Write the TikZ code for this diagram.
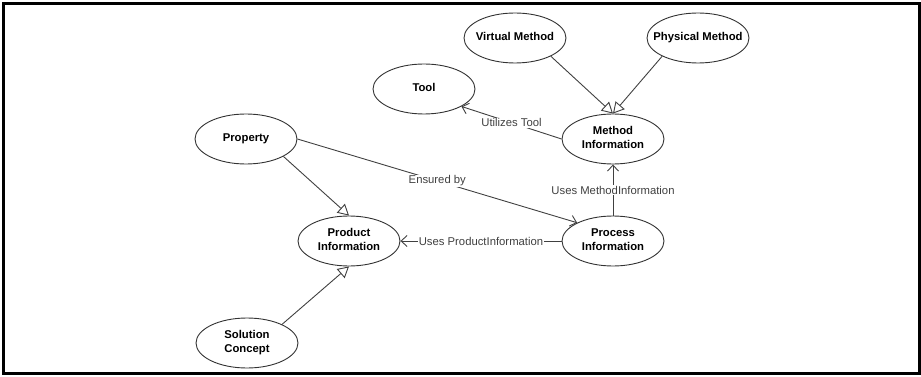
\documentclass[tikz,border=0pt]{standalone}
\usepackage{fontspec}
\setmainfont{Liberation Sans}
\usetikzlibrary{arrows.meta,shapes.geometric}
% centred multi-line text of zero width, so every ellipse keeps the same size
\newcommand{\ctext}[1]{\makebox[0pt]{\begin{tabular}{@{}c@{}}#1\end{tabular}}}
\begin{document}
\begin{tikzpicture}[x=1pt,y=-1pt,
  concept/.style={ellipse, draw=black!80, line width=0.9pt, fill=white,
    minimum width=102pt, minimum height=50pt, inner sep=0pt,
    font=\fontsize{11.3}{14}\selectfont\bfseries},
  link/.style={draw=black!75, line width=0.9pt},
  gen/.style={link, -{Triangle[open, length=11pt, width=12pt, fill=white]}},
  uses/.style={link, -{Straight Barb[length=6pt, width=11pt]}},
  lbl/.style={fill=white, inner sep=1pt, text=black!75,
    font=\fontsize{11.3}{14}\selectfont}]
  \useasboundingbox (0,0) rectangle (921,377);
  % outer frame
  \draw[line width=3pt] (3.5,3.5) rectangle (919.5,373.5);

  % concepts
  \node[concept] (vm)   at (515,38)  {\ctext{Virtual Method}};
  \node[concept] (pm)   at (698,38)  {\ctext{Physical Method}};
  \node[concept] (tool) at (424,89)  {\ctext{Tool}};
  \node[concept] (mi)   at (613,139) {\ctext{Method\\Information}};
  \node[concept] (prop) at (246,139) {\ctext{Property}};
  \node[concept] (prod) at (349,241) {\ctext{Product\\Information}};
  \node[concept] (proc) at (613,241) {\ctext{Process\\Information}};
  \node[concept] (sol)  at (247,343) {\ctext{Solution\\Concept}};

  % generalisations
  \draw[gen] (vm.-27) -- (mi.north);
  \draw[gen] (pm.207) -- (mi.north);
  \draw[gen] (prop.-25) -- (prod.north);
  \draw[gen] (sol.28) -- (prod.south);

  % associations
  \draw[uses] (mi.west) -- node[lbl] {Utilizes Tool} (tool.-25);
  \draw[uses] (prop.east) -- node[lbl] {Ensured by} (proc.153);
  \draw[uses] (proc.west) -- node[lbl] {Uses ProductInformation} (prod.east);
  \draw[uses] (proc.north) -- node[lbl] {Uses MethodInformation} (mi.south);
\end{tikzpicture}
\end{document}
